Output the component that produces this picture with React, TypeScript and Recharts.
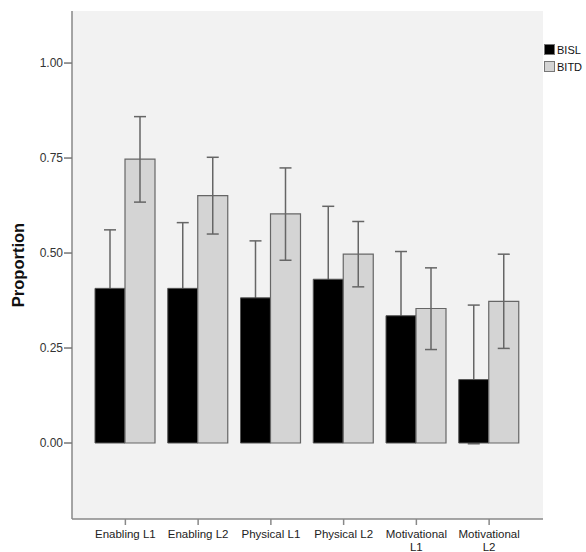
import React from "react";
import {
  BarChart,
  Bar,
  XAxis,
  YAxis,
  CartesianGrid,
  ErrorBar,
  Text,
} from "recharts";

const categories = [
  "Enabling L1",
  "Enabling L2",
  "Physical L1",
  "Physical L2",
  "Motivational L1",
  "Motivational L2",
];
const seriesNames = ["BISL", "BITD"];
const seriesColors = ["#000000", "#d4d4d4"];
const bisl = [0.407, 0.407, 0.382, 0.431, 0.335, 0.167];
const bislLow = [0.253, 0.234, 0.232, 0.239, 0.166, -0.002];
const bislHigh = [0.561, 0.58, 0.532, 0.623, 0.504, 0.363];
const bitd = [0.747, 0.651, 0.603, 0.497, 0.354, 0.373];
const bitdLow = [0.634, 0.55, 0.481, 0.411, 0.246, 0.249];
const bitdHigh = [0.859, 0.752, 0.724, 0.583, 0.461, 0.497];
const yTicks = [0, 0.25, 0.5, 0.75, 1];

const data = categories.map((c, i) => ({
  name: c,
  BISL: bisl[i],
  BITD: bitd[i],
  bislErr: [bisl[i] - bislLow[i], bislHigh[i] - bisl[i]],
  bitdErr: [bitd[i] - bitdLow[i], bitdHigh[i] - bitd[i]],
}));

const FONT = "'Liberation Sans', Arial, sans-serif";
const PAD = { left: 17, right: 17.5 };
const DOMAIN: [number, number] = [-0.2, 1.137];

const XTick = (props: any) => {
  const { x, y, payload } = props;
  return (
    <Text
      x={x}
      y={y}
      width={80}
      textAnchor="middle"
      verticalAnchor="start"
      fontSize={11.5}
      fontFamily={FONT}
      fill="#222"
      lineHeight={13}
    >
      {payload.value}
    </Text>
  );
};

export default function App() {
  return (
    <div style={{ position: "absolute", left: 0, top: 0, width: 586, height: 552, background: "#fff" }}>
      <BarChart
        width={586}
        height={552}
        data={data}
        margin={{ top: 11, right: 43, bottom: 0, left: 0 }}
        barGap={0}
        barSize={30}
      >
        <CartesianGrid
          fill="#f2f2f2"
          horizontal={false}
          vertical={false}
          xAxisId="bottom"
          yAxisId="left"
        />
        <XAxis
          xAxisId="bottom"
          dataKey="name"
          interval={0}
          height={33}
          padding={PAD}
          axisLine={{ stroke: "#888", strokeWidth: 1.5 }}
          tickLine={{ stroke: "#888", strokeWidth: 1.5 }}
          tickSize={6}
          tickMargin={5}
          tick={<XTick />}
        />
        <XAxis
          xAxisId="top"
          orientation="top"
          dataKey="name"
          height={0}
          padding={PAD}
          tick={false}
          tickLine={false}
          axisLine={{ stroke: "#888", strokeWidth: 1.5 }}
        />
        <YAxis
          yAxisId="left"
          width={72}
          domain={DOMAIN}
          ticks={yTicks}
          allowDataOverflow
          tickFormatter={(v: number) => v.toFixed(2)}
          axisLine={{ stroke: "#888", strokeWidth: 1.5 }}
          tickLine={{ stroke: "#777", strokeWidth: 1.5 }}
          tickSize={8}
          tickMargin={1}
          tick={{ fontSize: 12, fontFamily: FONT, fill: "#333" }}
          label={{
            value: "Proportion",
            angle: -90,
            position: "insideLeft",
            offset: 18,
            style: {
              fontSize: 16.5,
              fontWeight: "bold",
              fontFamily: FONT,
              fill: "#111",
              textAnchor: "middle",
            },
          }}
        />
        <YAxis
          yAxisId="right"
          orientation="right"
          width={0}
          domain={DOMAIN}
          allowDataOverflow
          tick={false}
          tickLine={false}
          axisLine={{ stroke: "#888", strokeWidth: 1.5 }}
        />
        <Bar
          dataKey="BISL"
          xAxisId="bottom"
          yAxisId="left"
          fill={seriesColors[0]}
          stroke="#555"
          strokeWidth={1}
          isAnimationActive={false}
        >
          <ErrorBar
            dataKey="bislErr"
            width={6}
            stroke="#666"
            strokeWidth={1.5}
            zIndex={100}
            isAnimationActive={false}
          />
        </Bar>
        <Bar
          dataKey="BITD"
          xAxisId="bottom"
          yAxisId="left"
          fill={seriesColors[1]}
          stroke="#666"
          strokeWidth={1.2}
          isAnimationActive={false}
        >
          <ErrorBar
            dataKey="bitdErr"
            width={6}
            stroke="#666"
            strokeWidth={1.5}
            isAnimationActive={false}
          />
        </Bar>
      </BarChart>
      <div
        style={{
          position: "absolute",
          left: 544,
          top: 41,
          fontFamily: FONT,
          fontSize: 11,
          color: "#111",
        }}
      >
        {seriesNames.map((n, i) => (
          <div key={n} style={{ display: "flex", alignItems: "center", height: 17 }}>
            <span
              style={{
                display: "inline-block",
                width: 9,
                height: 9,
                background: seriesColors[i],
                border: "1px solid #777",
                marginRight: 2,
              }}
            />
            <span>{n}</span>
          </div>
        ))}
      </div>
    </div>
  );
}
